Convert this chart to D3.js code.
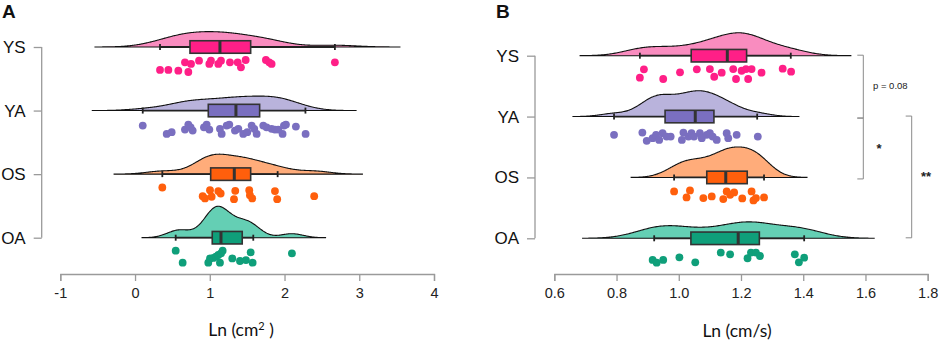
<!DOCTYPE html>
<html>
<head>
<meta charset="utf-8">
<script src="https://cdn.jsdelivr.net/npm/d3@7"></script>
<style>
  html, body { margin: 0; padding: 0; background: #ffffff; }
  svg { display: block; }
</style>
</head>
<body>
<div id="chart"></div>
<script>
// ---------------- DATA ----------------
const categories = ["YS", "YA", "OS", "OA"];

// Panel A : Ln (cm²)
const aTicks = [-1, 0, 1, 2, 3, 4];
const aYS = [0.334, 0.446, 0.579, 0.668, 0.713, 0.749, 0.856, 0.994, 1.016, 1.114, 1.150, 1.270, 1.373, 1.417, 1.480, 1.751, 1.796, 1.827, 2.674];
const aYSJ = [0.83, 0.83, 0.89, 0.19, 1.0, 0.33, 0.06, 0.33, 0.06, 0.33, 0.06, 0.19, 0.19, 0.61, 0.0, 0.0, 0.19, 0.33, 0.19];
const aYA = [0.103, 0.424, 0.49, 0.668, 0.713, 0.744, 0.771, 0.922, 0.958, 0.994, 1.136, 1.159, 1.226, 1.261, 1.337, 1.382, 1.448, 1.502, 1.56, 1.595, 1.627, 1.716, 1.76, 1.827, 1.872, 1.916, 1.974, 1.992, 2.019, 2.152, 2.282];
const aYAJ = [0.17, 0.86, 0.72, 0.5, 0.08, 0.31, 0.58, 0.31, 0.08, 0.5, 0.44, 0.86, 0.17, 0.08, 0.58, 0.44, 0.86, 0.72, 0.17, 0.44, 0.86, 0.17, 0.31, 0.44, 0.5, 0.5, 0.86, 0.17, 0.08, 0.25, 0.86];
const aOS = [0.365, 0.905, 0.936, 1.003, 1.025, 1.114, 1.146, 1.324, 1.341, 1.528, 1.537, 1.568, 1.872, 1.902, 2.397];
const aOSJ = [0.03, 0.75, 0.94, 0.25, 0.8, 0.33, 0.53, 1.0, 0.31, 0.25, 0.67, 0.94, 0.33, 1.0, 0.75];
const aOA = [0.544, 0.637, 0.98, 1.003, 1.047, 1.083, 1.114, 1.136, 1.15, 1.172, 1.301, 1.404, 1.484, 1.547, 1.573, 2.099];
const aOAJ = [0.0, 1.0, 1.0, 0.64, 0.6, 0.5, 0.36, 1.0, 0.22, 0.0, 0.64, 0.86, 0.78, 0.14, 1.0, 0.22];
const aQ1 = [0.735, 0.98, 1.012, 1.033];
const aMed = [1.136, 1.35, 1.328, 1.15];
const aQ3 = [1.547, 1.667, 1.547, 1.434];
const aLo = [0.334, 0.103, 0.365, 0.544];
const aHi = [2.674, 2.28, 1.908, 1.582];
const aBw = [0.29, 0.225, 0.215, 0.15];

// Panel B : Ln (cm/s)
const bTicks = [0.6, 0.8, 1.0, 1.2, 1.4, 1.6, 1.8];
const bYS = [0.875, 0.888, 0.95, 1.004, 1.058, 1.1, 1.114, 1.138, 1.175, 1.184, 1.202, 1.216, 1.223, 1.234, 1.266, 1.334, 1.361];
const bYSJ = [0.75, 0.05, 0.86, 0.3, 0.05, 0.03, 0.67, 0.33, 0.03, 0.86, 0.17, 0.03, 0.86, 0.03, 0.33, 0.0, 0.25];
const bYA = [0.792, 0.883, 0.897, 0.916, 0.927, 0.937, 0.948, 0.961, 0.974, 1.01, 1.015, 1.031, 1.041, 1.049, 1.068, 1.074, 1.09, 1.1, 1.109, 1.122, 1.154, 1.159, 1.186, 1.254];
const bYAJ = [0.44, 0.25, 0.94, 0.72, 0.44, 0.86, 0.3, 0.58, 0.58, 0.86, 0.25, 0.58, 0.3, 0.58, 0.3, 0.72, 0.44, 0.3, 0.58, 0.86, 0.3, 0.72, 0.44, 0.58];
const bOS = [0.985, 1.025, 1.036, 1.079, 1.106, 1.143, 1.154, 1.165, 1.178, 1.204, 1.234, 1.24, 1.248, 1.274];
const bOSJ = [0.08, 0.58, 0.0, 0.64, 0.5, 0.72, 0.08, 0.36, 0.17, 0.67, 0.08, 0.83, 0.64, 0.58];
const bOA = [0.916, 0.929, 0.95, 1.002, 1.053, 1.135, 1.165, 1.221, 1.232, 1.248, 1.261, 1.373, 1.386, 1.403];
const bOAJ = [0.72, 0.95, 0.72, 0.5, 0.92, 0.11, 0.25, 0.58, 0.11, 0.11, 0.39, 0.25, 0.92, 0.53];
const bQ1 = [1.04, 0.956, 1.09, 1.039];
const bMed = [1.156, 1.053, 1.151, 1.191];
const bQ3 = [1.218, 1.113, 1.22, 1.259];
const bLo = [0.875, 0.792, 0.985, 0.921];
const bHi = [1.36, 1.252, 1.274, 1.403];
const bBw = [0.064, 0.044, 0.046, 0.075];

// significance brackets (panel B)
const bracketFrom = ["YS", "YA", "YA"];
const bracketTo = ["YA", "OS", "OA"];
const bracketLabel = ["p = 0.08", "*", "**"];

// ---------------- STYLE ----------------
const boxColors = ["#ff1f87", "#7a6fc0", "#ff5f0c", "#0f9f7a"];
const densColors = ["#f98cbf", "#b9b3dc", "#ffac7a", "#64cfb4"];
const axisGray = "#9a9a9a";

const W = 941, H = 343;
const svg = d3.select("#chart").append("svg").attr("width", W).attr("height", H)
  .style("font-family", "'Liberation Sans', Arial, sans-serif");

function kde(vals, bw) {
  const lo = d3.min(vals) - 3 * bw, hi = d3.max(vals) + 3 * bw, n = 240;
  return d3.range(n + 1).map(i => {
    const x = lo + (hi - lo) * i / n;
    const d = d3.mean(vals, v => Math.exp(-0.5 * ((x - v) / bw) ** 2)) / (bw * Math.sqrt(2 * Math.PI));
    return [x, d];
  });
}

function panel(cfg) {
  const g = svg.append("g");
  const x = d3.scaleLinear().domain(cfg.domain).range(cfg.xRange);
  const y = d3.scalePoint().domain(categories).range(cfg.yRange);
  const jit = d3.scaleLinear().domain([0, 1]).range([13, 25]);

  // x axis
  const xa = g.append("g").attr("transform", `translate(0,${cfg.axisY})`)
    .call(d3.axisBottom(x).tickValues(cfg.ticks).tickFormat(cfg.fmt).tickSize(7).tickPadding(7));
  xa.select(".domain").attr("stroke", axisGray).attr("stroke-width", 1.3);
  xa.selectAll(".tick line").attr("stroke", axisGray).attr("stroke-width", 1.3);
  xa.selectAll(".tick text").attr("fill", "#222").style("font-size", "14.5px")
    .style("font-family", "'Liberation Sans', Arial, sans-serif");

  // y axis
  const ya = g.append("g").attr("transform", `translate(${cfg.yAxisX},0)`)
    .call(d3.axisLeft(y).tickSize(8).tickPadding(8));
  ya.select(".domain").attr("stroke", axisGray).attr("stroke-width", 1.3)
    .attr("d", `M0,${cfg.yRange[0]}V${cfg.yRange[1]}`);
  ya.selectAll(".tick line").attr("stroke", axisGray).attr("stroke-width", 1.3);
  ya.selectAll(".tick text").attr("fill", "#111").style("font-size", "17px")
    .style("font-family", "'Liberation Sans', Arial, sans-serif");

  // densities
  const dens = cfg.groups.map((vals, i) => kde(vals, cfg.bw[i]));
  const maxD = d3.max(dens, d => d3.max(d, p => p[1]));
  const h = d3.scaleLinear().domain([0, maxD]).range([0, cfg.maxH]);

  categories.forEach((c, i) => {
    const base = y(c);
    const area = d3.area().x(p => x(p[0])).y0(base).y1(p => base - h(p[1])).curve(d3.curveBasis);
    g.append("path").attr("d", area(dens[i]))
      .attr("fill", densColors[i]).attr("stroke", "#111").attr("stroke-width", 1.1);

    // whiskers
    const bh = 12.5;
    g.append("line").attr("x1", x(cfg.lo[i])).attr("x2", x(cfg.hi[i]))
      .attr("y1", base).attr("y2", base).attr("stroke", "#222").attr("stroke-width", 1.8);
    [cfg.lo[i], cfg.hi[i]].forEach(v => {
      g.append("line").attr("x1", x(v)).attr("x2", x(v)).attr("y1", base - 3).attr("y2", base + 3)
        .attr("stroke", "#222").attr("stroke-width", 1.8);
    });
    g.append("rect").attr("x", x(cfg.q1[i])).attr("y", base - bh / 2)
      .attr("width", x(cfg.q3[i]) - x(cfg.q1[i])).attr("height", bh)
      .attr("fill", boxColors[i]).attr("stroke", "#333").attr("stroke-width", 1.6);
    g.append("line").attr("x1", x(cfg.med[i])).attr("x2", x(cfg.med[i]))
      .attr("y1", base - bh / 2).attr("y2", base + bh / 2)
      .attr("stroke", "#333").attr("stroke-width", 3);

    // points
    g.selectAll(null).data(cfg.groups[i].map((v, k) => [v, cfg.jit[i][k]])).enter()
      .append("circle").attr("cx", d => x(d[0])).attr("cy", d => base + jit(d[1]))
      .attr("r", 3.9).attr("fill", boxColors[i]);
  });

  // axis title
  const t = g.append("text").attr("x", cfg.titleX).attr("y", cfg.titleY).attr("text-anchor", "middle")
    .style("font-family", "Lato, 'Open Sans', sans-serif").style("font-size", "17.5px").attr("fill", "#111");
  cfg.title(t);

  // panel letter
  g.append("text").attr("x", cfg.letterX).attr("y", 18).text(cfg.letter)
    .style("font-size", "19px").style("font-weight", "bold").attr("fill", "#111");

  return { x, y };
}

panel({
  domain: [-1, 4], xRange: [60.3, 434], yRange: [47, 237.7], axisY: 274, yAxisX: 41.7,
  ticks: aTicks, fmt: d => String(d),
  groups: [aYS, aYA, aOS, aOA], jit: [aYSJ, aYAJ, aOSJ, aOAJ],
  q1: aQ1, med: aMed, q3: aQ3, lo: aLo, hi: aHi, bw: aBw, maxH: 31.5,
  titleX: 241, titleY: 336, letter: "A", letterX: 2,
  title: t => {
    t.append("tspan").text("Ln (cm");
    t.append("tspan").text("2").attr("dy", -6).style("font-size", "11px");
    t.append("tspan").text(" )").attr("dy", 6);
  }
});

const pb = panel({
  domain: [0.6, 1.8], xRange: [554.3, 927.7], yRange: [55.7, 238.3], axisY: 274, yAxisX: 535,
  ticks: bTicks, fmt: d3.format(".1f"),
  groups: [bYS, bYA, bOS, bOA], jit: [bYSJ, bYAJ, bOSJ, bOAJ],
  q1: bQ1, med: bMed, q3: bQ3, lo: bLo, hi: bHi, bw: bBw, maxH: 30.5,
  titleX: 737, titleY: 337, letter: "B", letterX: 496,
  title: t => { t.text("Ln (cm/s)"); }
});

// brackets
const bx = [863.3, 863.3, 911.7];
const gapTop = [0, 2, 0];
const gapBot = [0, 0, 2];
const labelX = [873, 879, 926];
const labelSize = [9.5, 13, 13];
bracketFrom.forEach((f, i) => {
  const y1 = pb.y(f) + gapTop[i] - 0.5, y2 = pb.y(bracketTo[i]) - gapBot[i] + 1.5;
  svg.append("path").attr("d", `M${bx[i] - 6},${y1}H${bx[i]}V${y2}H${bx[i] - 6}`)
    .attr("fill", "none").attr("stroke", "#8a8a8a").attr("stroke-width", 1);
  svg.append("text").attr("x", labelX[i]).attr("y", (y1 + y2) / 2 + (i === 0 ? 0 : 4))
    .attr("text-anchor", i === 0 ? "start" : "middle").attr("dominant-baseline", i === 0 ? "middle" : "auto")
    .style("font-size", labelSize[i] + "px").style("font-weight", i === 0 ? "normal" : "bold")
    .attr("fill", "#222").text(bracketLabel[i]);
});
</script>
</body>
</html>
